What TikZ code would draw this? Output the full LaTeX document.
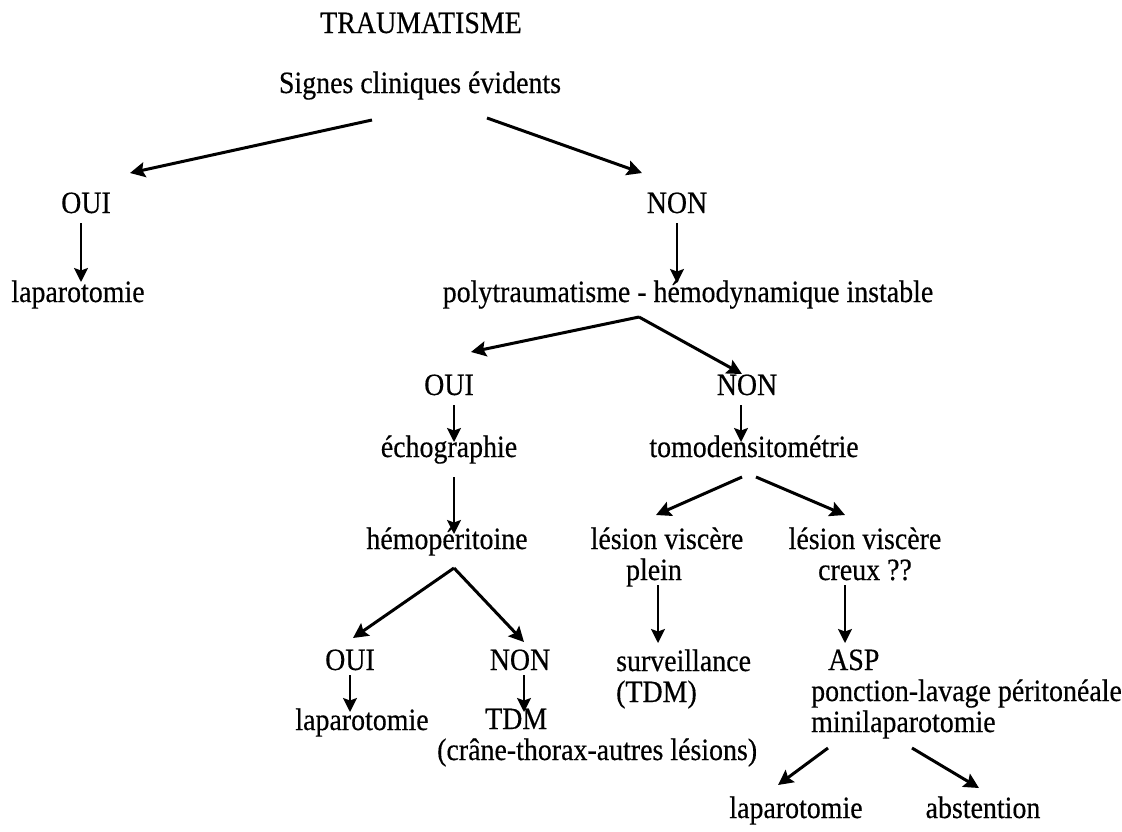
\documentclass[tikz,border=0pt]{standalone}
\usepackage{fontspec}
\setmainfont{Liberation Serif}[FakeStretch=0.9,FakeBold=0.4]
\usetikzlibrary{arrows.meta}
\begin{document}
\begin{tikzpicture}[x=1pt,y=-1pt,
  lbl/.style={inner sep=0pt, font=\fontsize{31}{31}\selectfont},
  arr/.style={line width=3pt, -{Stealth[length=15pt,width=15pt,inset=2.5pt]}},
  varr/.style={line width=2.2pt, -{Stealth[length=14pt,width=14pt,inset=2.5pt]}}]
\useasboundingbox (0,0) rectangle (1122,831);

% nodes (multi-line nodes are placed by the baseline of their last line)
\node[lbl,anchor=base] (trauma) at (421,33) {TRAUMATISME};
\node[lbl,anchor=base] (signes) at (420,93) {Signes cliniques évidents};
\node[lbl,anchor=base] (oui1) at (86,213) {OUI};
\node[lbl,anchor=base] (non1) at (677,213) {NON};
\node[lbl,anchor=base] (lap1) at (78,302) {laparotomie};
\node[lbl,anchor=base] (poly) at (688,302) {polytraumatisme - hémodynamique instable};
\node[lbl,anchor=base] (oui2) at (449,395) {OUI};
\node[lbl,anchor=base] (non2) at (747,395) {NON};
\node[lbl,anchor=base] (echo) at (449,457) {échographie};
\node[lbl,anchor=base] (tomo) at (754,457) {tomodensitométrie};
\node[lbl,anchor=base] (hemo) at (447,549) {hémopéritoine};
\node[lbl,anchor=base,align=center] (lvp) at (667,580) {lésion viscère\\plein\hspace*{26pt}};
\node[lbl,anchor=base,align=center] (lvc) at (865,580) {lésion viscère\\creux ??};
\node[lbl,anchor=base] (oui3) at (350,670) {OUI};
\node[lbl,anchor=base] (non3) at (520,670) {NON};
\node[lbl,anchor=base west,align=left] (surv) at (616,702) {surveillance\\(TDM)};
\node[lbl,anchor=base west,align=left] (asp) at (811,732) {\hspace*{17pt}ASP\\ponction-lavage péritonéale\\minilaparotomie};
\node[lbl,anchor=base] (lap3) at (362,730) {laparotomie};
\node[lbl,anchor=base west,align=left] (tdm) at (437,760) {\hspace*{48pt}TDM\\(crâne-thorax-autres lésions)};
\node[lbl,anchor=base] (lap4) at (796,818) {laparotomie};
\node[lbl,anchor=base] (abst) at (983,818) {abstention};

% connector end points
\coordinate (signes-l) at (372,120);
\coordinate (signes-r) at (487,118);
\coordinate (oui1-in) at (130,173);
\coordinate (non1-in) at (642,173);
\coordinate (oui1-out) at (81,223);
\coordinate (lap1-in) at (81,282);
\coordinate (non1-out) at (677,223);
\coordinate (poly-in) at (677,283);
\coordinate (poly-out) at (639,317);
\coordinate (oui2-in) at (471,352);
\coordinate (non2-in) at (742,374);
\coordinate (oui2-out) at (454,405);
\coordinate (echo-in) at (454,442);
\coordinate (non2-out) at (741,405);
\coordinate (tomo-in) at (741,442);
\coordinate (echo-out) at (454,477);
\coordinate (hemo-in) at (454,534);
\coordinate (tomo-l) at (742,477);
\coordinate (tomo-r) at (756,477);
\coordinate (lvp-in) at (656,515);
\coordinate (lvc-in) at (845,515);
\coordinate (hemo-out) at (454,568);
\coordinate (oui3-in) at (353,638);
\coordinate (non3-in) at (524,642);
\coordinate (lvp-out) at (658,585);
\coordinate (surv-in) at (658,643);
\coordinate (lvc-out) at (845,585);
\coordinate (asp-in) at (845,643);
\coordinate (oui3-out) at (350,675);
\coordinate (lap3-in) at (350,712);
\coordinate (non3-out) at (524,675);
\coordinate (tdm-in) at (524,712);
\coordinate (asp-l) at (828,748);
\coordinate (asp-r) at (912,748);
\coordinate (lap4-in) at (778,785);
\coordinate (abst-in) at (979,788);

% connectors
\draw[arr] (signes-l) -- (oui1-in);
\draw[arr] (signes-r) -- (non1-in);
\draw[varr] (oui1-out) -- (lap1-in);
\draw[varr] (non1-out) -- (poly-in);
\draw[arr] (poly-out) -- (oui2-in);
\draw[arr] (poly-out) -- (non2-in);
\draw[varr] (oui2-out) -- (echo-in);
\draw[varr] (non2-out) -- (tomo-in);
\draw[varr] (echo-out) -- (hemo-in);
\draw[arr] (tomo-l) -- (lvp-in);
\draw[arr] (tomo-r) -- (lvc-in);
\draw[arr] (hemo-out) -- (oui3-in);
\draw[arr] (hemo-out) -- (non3-in);
\draw[varr] (lvp-out) -- (surv-in);
\draw[varr] (lvc-out) -- (asp-in);
\draw[varr] (oui3-out) -- (lap3-in);
\draw[varr] (non3-out) -- (tdm-in);
\draw[arr] (asp-l) -- (lap4-in);
\draw[arr] (asp-r) -- (abst-in);
\end{tikzpicture}
\end{document}
